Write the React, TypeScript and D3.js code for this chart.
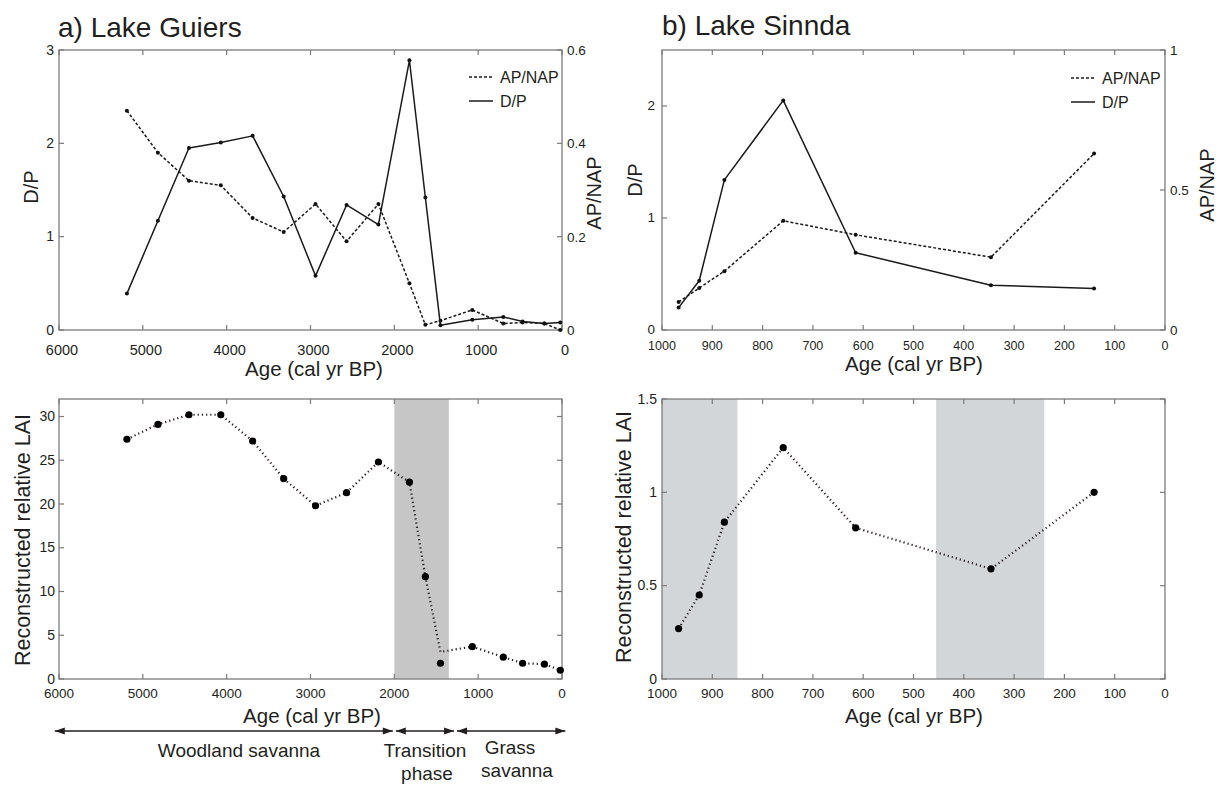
import React, { useEffect, useRef } from 'react';
import * as d3 from 'd3';

// a) Lake Guiers
const guiersAge = [5190, 4820, 4450, 4070, 3690, 3320, 2940, 2570, 2190, 1820, 1630, 1450, 1070, 700, 470, 210, 20];
const guiersDP = [0.39, 1.17, 1.95, 2.01, 2.08, 1.43, 0.58, 1.34, 1.13, 2.89, 1.42, 0.05, 0.11, 0.14, 0.09, 0.07, 0.08];
const guiersAPNAP = [0.47, 0.38, 0.32, 0.31, 0.24, 0.21, 0.27, 0.19, 0.27, 0.1, 0.011, 0.02, 0.043, 0.014, 0.016, 0.014, 0.0];
const guiersLAI = [27.4, 29.1, 30.2, 30.2, 27.2, 22.9, 19.8, 21.3, 24.8, 22.5, 11.7, 1.8, 3.7, 2.5, 1.8, 1.7, 1.0];
const guiersLAILine = [27.4, 29.1, 30.2, 30.2, 27.2, 22.9, 19.8, 21.3, 24.8, 22.5, 11.7, 3.1, 3.7, 2.5, 1.8, 1.7, 1.0];
const guiersBands = [[2000, 1350]];

// b) Lake Sinnda
const sinndaAge = [967, 926, 876, 759, 615, 346, 141];
const sinndaDP = [0.2, 0.44, 1.34, 2.05, 0.69, 0.4, 0.37];
const sinndaAPNAP = [0.1, 0.15, 0.21, 0.39, 0.34, 0.26, 0.63];
const sinndaLAI = [0.27, 0.45, 0.84, 1.24, 0.81, 0.59, 1.0];
const sinndaBands = [[1000, 850], [455, 240]];

// ticks
const guiersAgeTicks = [6000, 5000, 4000, 3000, 2000, 1000, 0];
const sinndaAgeTicks = [1000, 900, 800, 700, 600, 500, 400, 300, 200, 100, 0];
const guiersDPTicks = [0, 1, 2, 3];
const guiersAPTicks = [0, 0.2, 0.4, 0.6];
const sinndaDPTicks = [0, 1, 2];
const sinndaAPTicks = [0, 0.5, 1];
const guiersLAITicks = [0, 5, 10, 15, 20, 25, 30];
const sinndaLAITicks = [0, 0.5, 1, 1.5];

// vegetation phases under panel a
const phaseNames = ['Woodland savanna', 'Transition phase', 'Grass savanna'];
const phaseFrom = [6050, 2000, 1270];
const phaseTo = [2000, 1270, -40];

const FONT = "'Liberation Sans', Arial, sans-serif";
const INK = '#231f20';
const FRAME = '#7b7b7b';

type Sel = d3.Selection<SVGGElement, unknown, null, undefined>;
type Lin = d3.ScaleLinear<number, number>;

const label = (g: Sel, x: number, y: number, s: string, size: number, anchor = 'start') =>
  g.append('text')
    .attr('x', x)
    .attr('y', y)
    .attr('font-family', FONT)
    .attr('font-size', size)
    .attr('fill', INK)
    .attr('text-anchor', anchor)
    .text(s);

const vlabel = (g: Sel, x: number, y: number, s: string, size: number) =>
  g.append('text')
    .attr('transform', `translate(${x},${y}) rotate(-90)`)
    .attr('dy', '0.35em')
    .attr('font-family', FONT)
    .attr('font-size', size)
    .attr('fill', INK)
    .attr('text-anchor', 'middle')
    .text(s);

// box with inward Matlab-style ticks
function frame(
  g: Sel,
  x: Lin,
  xTicks: number[],
  xLabelY: number,
  xLabelSize: number,
  xLabelShift: number,
  yL: Lin,
  yLTicks: number[],
  yLLabelX: number,
  yLSize: number,
  yR: Lin,
  yRTicks: number[],
  yRLabelX: number | null,
  yRSize: number
) {
  const [x0, x1] = x.range();
  const [yb, yt] = yL.range();
  const tl = 5;
  g.append('rect')
    .attr('x', x0).attr('y', yt)
    .attr('width', x1 - x0).attr('height', yb - yt)
    .attr('fill', 'none').attr('stroke', FRAME).attr('stroke-width', 1.3);

  xTicks.forEach(t => {
    const px = x(t);
    g.append('line').attr('x1', px).attr('x2', px).attr('y1', yb).attr('y2', yb - tl)
      .attr('stroke', FRAME).attr('stroke-width', 1.2);
    g.append('line').attr('x1', px).attr('x2', px).attr('y1', yt).attr('y2', yt + tl)
      .attr('stroke', FRAME).attr('stroke-width', 1.2);
    label(g, px + xLabelShift, xLabelY, String(t), xLabelSize, 'middle');
  });

  yLTicks.forEach(t => {
    const py = yL(t);
    g.append('line').attr('x1', x0).attr('x2', x0 + tl).attr('y1', py).attr('y2', py)
      .attr('stroke', FRAME).attr('stroke-width', 1.2);
    label(g, yLLabelX, py + yLSize * 0.33, String(t), yLSize, 'end');
  });

  yRTicks.forEach(t => {
    const py = yR(t);
    g.append('line').attr('x1', x1).attr('x2', x1 - tl).attr('y1', py).attr('y2', py)
      .attr('stroke', FRAME).attr('stroke-width', 1.2);
    if (yRLabelX !== null) label(g, yRLabelX, py + yRSize * 0.36, String(t), yRSize, 'start');
  });
}

function series(g: Sel, x: Lin, y: Lin, age: number[], vals: number[], dash: string | null, r: number) {
  const line = d3.line<number>().x((_, i) => x(age[i])).y(d => y(d));
  g.append('path')
    .attr('d', line(vals))
    .attr('fill', 'none')
    .attr('stroke', '#1a1a1a')
    .attr('stroke-width', 1.5)
    .attr('stroke-dasharray', dash)
    .attr('stroke-linejoin', 'round');
  vals.forEach((v, i) => {
    g.append('circle').attr('cx', x(age[i])).attr('cy', y(v)).attr('r', r).attr('fill', '#111');
  });
}

function lai(g: Sel, x: Lin, y: Lin, age: number[], pts: number[], lineVals: number[]) {
  const line = d3.line<number>().x((_, i) => x(age[i])).y(d => y(d));
  g.append('path')
    .attr('d', line(lineVals))
    .attr('fill', 'none')
    .attr('stroke', '#2a1c1c')
    .attr('stroke-width', 2.2)
    .attr('stroke-dasharray', '1.2,3');
  pts.forEach((v, i) => {
    g.append('circle').attr('cx', x(age[i])).attr('cy', y(v)).attr('r', 3.6).attr('fill', '#000');
  });
}

function legend(g: Sel, x: number, y: number) {
  g.append('line').attr('x1', x).attr('x2', x + 24).attr('y1', y).attr('y2', y)
    .attr('stroke', '#1a1a1a').attr('stroke-width', 1.5).attr('stroke-dasharray', '3,2');
  label(g, x + 31, y + 5.5, 'AP/NAP', 16);
  g.append('line').attr('x1', x).attr('x2', x + 24).attr('y1', y + 24).attr('y2', y + 24)
    .attr('stroke', '#1a1a1a').attr('stroke-width', 1.5);
  label(g, x + 31, y + 29.5, 'D/P', 16);
}

export default function App() {
  const svgRef = useRef<SVGSVGElement>(null);

  useEffect(() => {
    if (!svgRef.current) return;
    const svg = d3.select(svgRef.current);
    svg.selectAll('*').remove();
    const g = svg.append('g') as unknown as Sel;

    const xA = d3.scaleLinear().domain([6000, 0]).range([59, 562]);
    const xB = d3.scaleLinear().domain([1000, 0]).range([662, 1165]);

    // ---- top left: Lake Guiers D/P and AP/NAP
    const dpA = d3.scaleLinear().domain([0, 3]).range([330, 50]);
    const apA = d3.scaleLinear().domain([0, 0.6]).range([330, 50]);
    label(g, 58, 37, 'a) Lake Guiers', 28);
    frame(g, xA, guiersAgeTicks, 354.5, 14.5, 3, dpA, guiersDPTicks, 54, 14, apA, guiersAPTicks, 567, 13.5);
    series(g, xA, apA, guiersAge, guiersAPNAP, '3,2', 2);
    series(g, xA, dpA, guiersAge, guiersDP, null, 2);
    legend(g, 469, 77);
    label(g, 314, 376, 'Age (cal yr BP)', 20.5, 'middle');
    vlabel(g, 31, 187, 'D/P', 20);
    vlabel(g, 594, 193, 'AP/NAP', 20);

    // ---- top right: Lake Sinnda D/P and AP/NAP
    const dpB = d3.scaleLinear().domain([0, 2.5]).range([330, 50]);
    const apB = d3.scaleLinear().domain([0, 1]).range([330, 50]);
    label(g, 662, 35, 'b) Lake Sinnda', 28);
    frame(g, xB, sinndaAgeTicks, 349.5, 12.5, 0, dpB, sinndaDPTicks, 655, 13.5, apB, sinndaAPTicks, 1170, 13.5);
    series(g, xB, apB, sinndaAge, sinndaAPNAP, '3,2', 2);
    series(g, xB, dpB, sinndaAge, sinndaDP, null, 2);
    legend(g, 1071, 78);
    label(g, 914, 371, 'Age (cal yr BP)', 20.5, 'middle');
    vlabel(g, 635, 180, 'D/P', 20);
    vlabel(g, 1207, 185, 'AP/NAP', 20);

    // ---- bottom left: Lake Guiers LAI
    const laiA = d3.scaleLinear().domain([0, 32]).range([679, 399]);
    guiersBands.forEach(([a, b]) => {
      g.append('rect').attr('x', xA(a)).attr('y', laiA(32))
        .attr('width', xA(b) - xA(a)).attr('height', laiA(0) - laiA(32))
        .attr('fill', '#c6c6c6');
    });
    frame(g, xA, guiersAgeTicks, 698, 13.5, 0, laiA, guiersLAITicks, 55, 14, laiA, guiersLAITicks, null, 14);
    lai(g, xA, laiA, guiersAge, guiersLAI, guiersLAILine);
    label(g, 312, 723, 'Age (cal yr BP)', 20.5, 'middle');
    vlabel(g, 22, 540, 'Reconstructed relative LAI', 21.5);

    // ---- bottom right: Lake Sinnda LAI
    const laiB = d3.scaleLinear().domain([0, 1.5]).range([679, 399]);
    sinndaBands.forEach(([a, b]) => {
      g.append('rect').attr('x', xB(a)).attr('y', laiB(1.5))
        .attr('width', xB(b) - xB(a)).attr('height', laiB(0) - laiB(1.5))
        .attr('fill', '#d3d6d9');
    });
    frame(g, xB, sinndaAgeTicks, 698, 13.5, 0, laiB, sinndaLAITicks, 657, 14, laiB, sinndaLAITicks, null, 14);
    lai(g, xB, laiB, sinndaAge, sinndaLAI, sinndaLAI);
    label(g, 914, 723, 'Age (cal yr BP)', 20.5, 'middle');
    vlabel(g, 623, 537, 'Reconstructed relative LAI', 21.5);

    // ---- vegetation phases (arrows)
    const ay = 731;
    const head = (px: number, dir: number) =>
      g.append('path')
        .attr('d', `M${px},${ay} L${px - dir * 10},${ay - 3.5} L${px - dir * 10},${ay + 3.5} Z`)
        .attr('fill', INK);
    phaseNames.forEach((name, i) => {
      const a = xA(phaseFrom[i]) + (i === 0 ? 0 : 1.5);
      const b = xA(phaseTo[i]) - (i === phaseNames.length - 1 ? 0 : 1.5);
      g.append('line').attr('x1', a).attr('x2', b).attr('y1', ay).attr('y2', ay)
        .attr('stroke', INK).attr('stroke-width', 1.3);
      head(a, -1);
      head(b, 1);
    });
    label(g, 239, 757, phaseNames[0], 19, 'middle');
    label(g, 425, 757, 'Transition', 19, 'middle');
    label(g, 427, 780, 'phase', 19, 'middle');
    label(g, 510, 754, 'Grass', 19, 'middle');
    label(g, 517, 777, 'savanna', 19, 'middle');
  }, []);

  return (
    <svg
      ref={svgRef}
      width={1223}
      height={785}
      style={{ position: 'absolute', left: 0, top: 0, background: '#fff' }}
    />
  );
}
